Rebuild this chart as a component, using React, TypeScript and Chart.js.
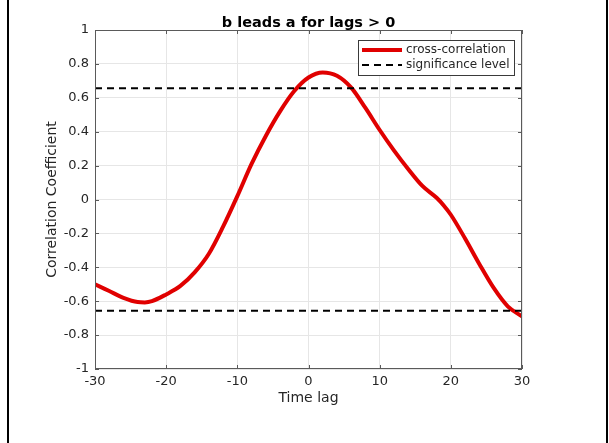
import React, { useEffect, useRef } from "react";
import { Chart, registerables } from "chart.js";

Chart.register(...registerables);

const lags = [-30, -28, -26, -24, -23, -22, -20, -18, -16, -14, -12, -10, -8, -6, -4, -2, 0, 2, 4, 6, 8, 10, 12, 14, 16, 18, 19, 20, 22, 24, 26, 28, 30];
const xcorr = [-0.5, -0.54, -0.58, -0.605, -0.607, -0.6, -0.56, -0.51, -0.43, -0.32, -0.16, 0.02, 0.21, 0.375, 0.52, 0.64, 0.72, 0.75, 0.73, 0.66, 0.54, 0.41, 0.29, 0.18, 0.08, 0.01, -0.035, -0.09, -0.23, -0.38, -0.52, -0.63, -0.69];
const sigLevel = 0.656;
const xTicks = [-30, -20, -10, 0, 10, 20, 30];
const title = "b leads a for lags > 0";
const xLabel = "Time lag";
const yLabel = "Correlation Coefficient";
const legendLabels = ["cross-correlation", "significance level"];

const FONT = "'DejaVu Sans', sans-serif";

const framePlugin = {
  id: "frame",
  afterDraw(chart: any) {
    const { ctx, chartArea: a, scales } = chart;
    ctx.save();
    ctx.strokeStyle = "#5a5a5a";
    ctx.lineWidth = 1;
    ctx.strokeRect(a.left + 0.5, a.top + 0.5, a.right - a.left - 1, a.bottom - a.top - 1);
    const tl = 4;
    ctx.beginPath();
    scales.x.ticks.forEach((t: any) => {
      const px = Math.round(scales.x.getPixelForValue(t.value)) + 0.5;
      ctx.moveTo(px, a.bottom);
      ctx.lineTo(px, a.bottom - tl);
      ctx.moveTo(px, a.top);
      ctx.lineTo(px, a.top + tl);
    });
    scales.y.ticks.forEach((t: any) => {
      const py = Math.round(scales.y.getPixelForValue(t.value)) + 0.5;
      ctx.moveTo(a.left, py);
      ctx.lineTo(a.left + tl, py);
      ctx.moveTo(a.right, py);
      ctx.lineTo(a.right - tl, py);
    });
    ctx.stroke();

    ctx.fillStyle = "#000";
    ctx.font = `bold 14.5px ${FONT}`;
    ctx.textAlign = "center";
    ctx.textBaseline = "alphabetic";
    ctx.fillText(title, (a.left + a.right) / 2, 27);

    ctx.fillStyle = "#262626";
    ctx.font = `14px ${FONT}`;
    ctx.fillText(xLabel, (a.left + a.right) / 2, 402);

    ctx.save();
    ctx.translate(56, (a.top + a.bottom) / 2);
    ctx.rotate(-Math.PI / 2);
    ctx.fillText(yLabel, 0, 0);
    ctx.restore();

    const bx = 358, by = 40, bw = 156, bh = 35;
    ctx.fillStyle = "#fff";
    ctx.fillRect(bx, by, bw, bh);
    ctx.strokeStyle = "#3a3a3a";
    ctx.lineWidth = 1;
    ctx.strokeRect(bx + 0.5, by + 0.5, bw, bh);
    ctx.lineCap = "butt";
    ctx.strokeStyle = "#e00000";
    ctx.lineWidth = 4;
    ctx.beginPath();
    ctx.moveTo(362, 50);
    ctx.lineTo(402, 50);
    ctx.stroke();
    ctx.strokeStyle = "#000";
    ctx.lineWidth = 2;
    ctx.setLineDash([7, 5]);
    ctx.beginPath();
    ctx.moveTo(362, 65);
    ctx.lineTo(402, 65);
    ctx.stroke();
    ctx.setLineDash([]);
    ctx.fillStyle = "#262626";
    ctx.font = `12px ${FONT}`;
    ctx.textAlign = "left";
    ctx.textBaseline = "middle";
    ctx.fillText(legendLabels[0], 406, 50);
    ctx.fillText(legendLabels[1], 406, 65);
    ctx.restore();
  },
};

export default function App() {
  const ref = useRef<HTMLCanvasElement | null>(null);
  useEffect(() => {
    if (!ref.current) return;
    const chart = new Chart(ref.current, {
      type: "line",
      data: {
        datasets: [
          {
            label: legendLabels[0],
            data: lags.map((x, i) => ({ x, y: xcorr[i] })),
            borderColor: "#e00000",
            borderWidth: 4,
            pointRadius: 0,
            cubicInterpolationMode: "monotone",
            order: 2,
          },
          {
            label: legendLabels[1],
            data: [{ x: -30, y: sigLevel }, { x: 30, y: sigLevel }],
            borderColor: "#000",
            borderWidth: 2,
            borderDash: [7, 5],
            pointRadius: 0,
            order: 1,
          },
          {
            label: "lower",
            data: [{ x: -30, y: -sigLevel }, { x: 30, y: -sigLevel }],
            borderColor: "#000",
            borderWidth: 2,
            borderDash: [7, 5],
            pointRadius: 0,
            order: 1,
          },
        ],
      },
      options: {
        animation: false,
        responsive: false,
        devicePixelRatio: 1,
        layout: { padding: { left: 0, right: 87, top: 30, bottom: 0 } },
        plugins: { legend: { display: false }, title: { display: false }, tooltip: { enabled: false } },
        scales: {
          x: {
            type: "linear",
            min: -30,
            max: 30,
            afterBuildTicks: (s: any) => {
              s.ticks = xTicks.map((v) => ({ value: v }));
            },
            afterFit: (s: any) => {
              s.height = 74;
            },
            ticks: { color: "#262626", font: { family: FONT, size: 13 }, padding: 5, maxRotation: 0 },
            grid: { color: "#e6e6e6", drawTicks: false, tickLength: 0 },
            border: { display: false },
          },
          y: {
            type: "linear",
            min: -1,
            max: 1,
            ticks: {
              stepSize: 0.2,
              color: "#262626",
              font: { family: FONT, size: 13 },
              padding: 6,
              callback: (v: any) => String(Math.round(Number(v) * 10) / 10),
            },
            afterFit: (s: any) => {
              s.width = 95;
            },
            grid: { color: "#e6e6e6", drawTicks: false, tickLength: 0 },
            border: { display: false },
          },
        },
      },
      plugins: [framePlugin],
    } as any);
    return () => chart.destroy();
  }, []);
  return (
    <div style={{ position: "fixed", left: 0, top: 0, width: 609, height: 443, background: "#fff" }}>
      <canvas ref={ref} width={609} height={443} style={{ position: "absolute", left: 0, top: 0, width: 609, height: 443 }} />
      <div style={{ position: "absolute", left: 7, top: 0, width: 2, height: 443, background: "#000" }} />
      <div style={{ position: "absolute", left: 606, top: 0, width: 2, height: 443, background: "#000" }} />
    </div>
  );
}
